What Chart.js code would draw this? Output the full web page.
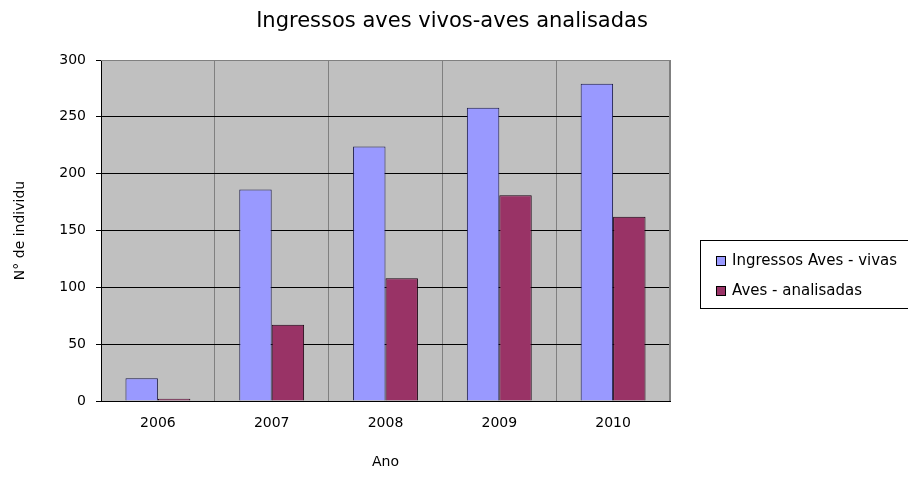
<!DOCTYPE html>
<html>
<head>
<meta charset="utf-8">
<script src="https://cdn.jsdelivr.net/npm/chart.js@4/dist/chart.umd.min.js"></script>
<style>
  html, body { margin: 0; padding: 0; background: #fff; }
  #wrap { width: 908px; height: 481px; position: relative; }
</style>
</head>
<body>
<div id="wrap"><canvas id="chart"></canvas></div>
<script>
const years = ['2006', '2007', '2008', '2009', '2010'];
const avesVivas = [20, 186, 224, 258, 279];
const avesAnalisadas = [2, 67, 108, 181, 162];
const seriesNames = ['Ingressos Aves - vivas', 'Aves - analisadas'];
const chartTitle = 'Ingressos aves vivos-aves analisadas';

const FONT = '"DejaVu Sans", Verdana, sans-serif';

// gray plot background, gray top/right frame and the title over the whole canvas
const plotBg = {
  id: 'plotBg',
  beforeDraw(chart) {
    const { ctx, chartArea: a } = chart;
    ctx.save();
    ctx.fillStyle = '#c0c0c0';
    ctx.fillRect(a.left, a.top, a.right - a.left, a.bottom - a.top);
    ctx.restore();
  },
  afterDraw(chart) {
    const { ctx, chartArea: a } = chart;
    ctx.save();
    ctx.strokeStyle = '#808080';
    ctx.lineWidth = 1;
    ctx.beginPath();
    ctx.moveTo(a.left, a.top + 0.5);
    ctx.lineTo(a.right - 0.5, a.top + 0.5);
    ctx.lineTo(a.right - 0.5, a.bottom);
    ctx.stroke();
    ctx.fillStyle = '#000';
    ctx.font = '21px ' + FONT;
    ctx.textAlign = 'center';
    ctx.textBaseline = 'middle';
    ctx.fillText(chartTitle, chart.width / 2 - 2, 22);
    ctx.restore();
  }
};

// legend box at the right, like the original
const boxLegend = {
  id: 'boxLegend',
  afterDraw(chart) {
    const ctx = chart.ctx;
    const x = 700, y = 240, w = 215, h = 69;
    ctx.save();
    ctx.fillStyle = '#fff';
    ctx.fillRect(x, y, w, h);
    ctx.strokeStyle = '#000';
    ctx.lineWidth = 1;
    ctx.strokeRect(x + 0.5, y + 0.5, w, h - 1);
    ctx.font = '15px ' + FONT;
    ctx.textBaseline = 'middle';
    chart.data.datasets.forEach((ds, i) => {
      const cy = y + 21 + i * 30;
      ctx.fillStyle = ds.backgroundColor;
      ctx.fillRect(x + 16, cy - 5, 10, 10);
      ctx.strokeStyle = '#000';
      ctx.strokeRect(x + 16.5, cy - 4.5, 9, 9);
      ctx.fillStyle = '#000';
      ctx.fillText(ds.label, x + 32, cy);
    });
    ctx.restore();
  }
};

new Chart(document.getElementById('chart'), {
  type: 'bar',
  data: {
    labels: years,
    datasets: [
      {
        label: seriesNames[0],
        data: avesVivas,
        backgroundColor: '#9999ff',
        borderColor: '#1a1a4a',
        borderWidth: 1,
        barPercentage: 1.0,
        categoryPercentage: 0.57
      },
      {
        label: seriesNames[1],
        data: avesAnalisadas,
        backgroundColor: '#993366',
        borderColor: '#1a0010',
        borderWidth: 1,
        barPercentage: 1.0,
        categoryPercentage: 0.57
      }
    ]
  },
  options: {
    responsive: true,
    maintainAspectRatio: false,
    animation: false,
    layout: { padding: { left: 0, right: 238, top: 60, bottom: 0 } },
    plugins: {
      legend: { display: false },
      tooltip: { enabled: false },
      title: { display: false }
    },
    scales: {
      x: {
        afterFit(scale) { scale.height = 80; },
        grid: { color: '#808080', drawTicks: false, offset: true },
        border: { color: '#000', width: 1 },
        ticks: { color: '#000', font: { family: FONT, size: 14 }, padding: 14 },
        title: {
          display: true,
          text: 'Ano',
          color: '#000',
          font: { family: FONT, size: 14 },
          padding: { top: 4, bottom: 10 }
        }
      },
      y: {
        afterFit(scale) { scale.width = 101; },
        min: 0,
        max: 300,
        ticks: { stepSize: 50, color: '#000', font: { family: FONT, size: 14 }, padding: 10 },
        grid: {
          color: (c) => (c.tick && c.tick.value === 300 ? '#808080' : '#000'),
          tickColor: '#000',
          tickLength: 5
        },
        border: { color: '#000', width: 1 },
        title: {
          display: true,
          text: 'N° de individu',
          color: '#000',
          font: { family: FONT, size: 14 },
          padding: { top: 12, bottom: 4 }
        }
      }
    }
  },
  plugins: [plotBg, boxLegend]
});
</script>
</body>
</html>
